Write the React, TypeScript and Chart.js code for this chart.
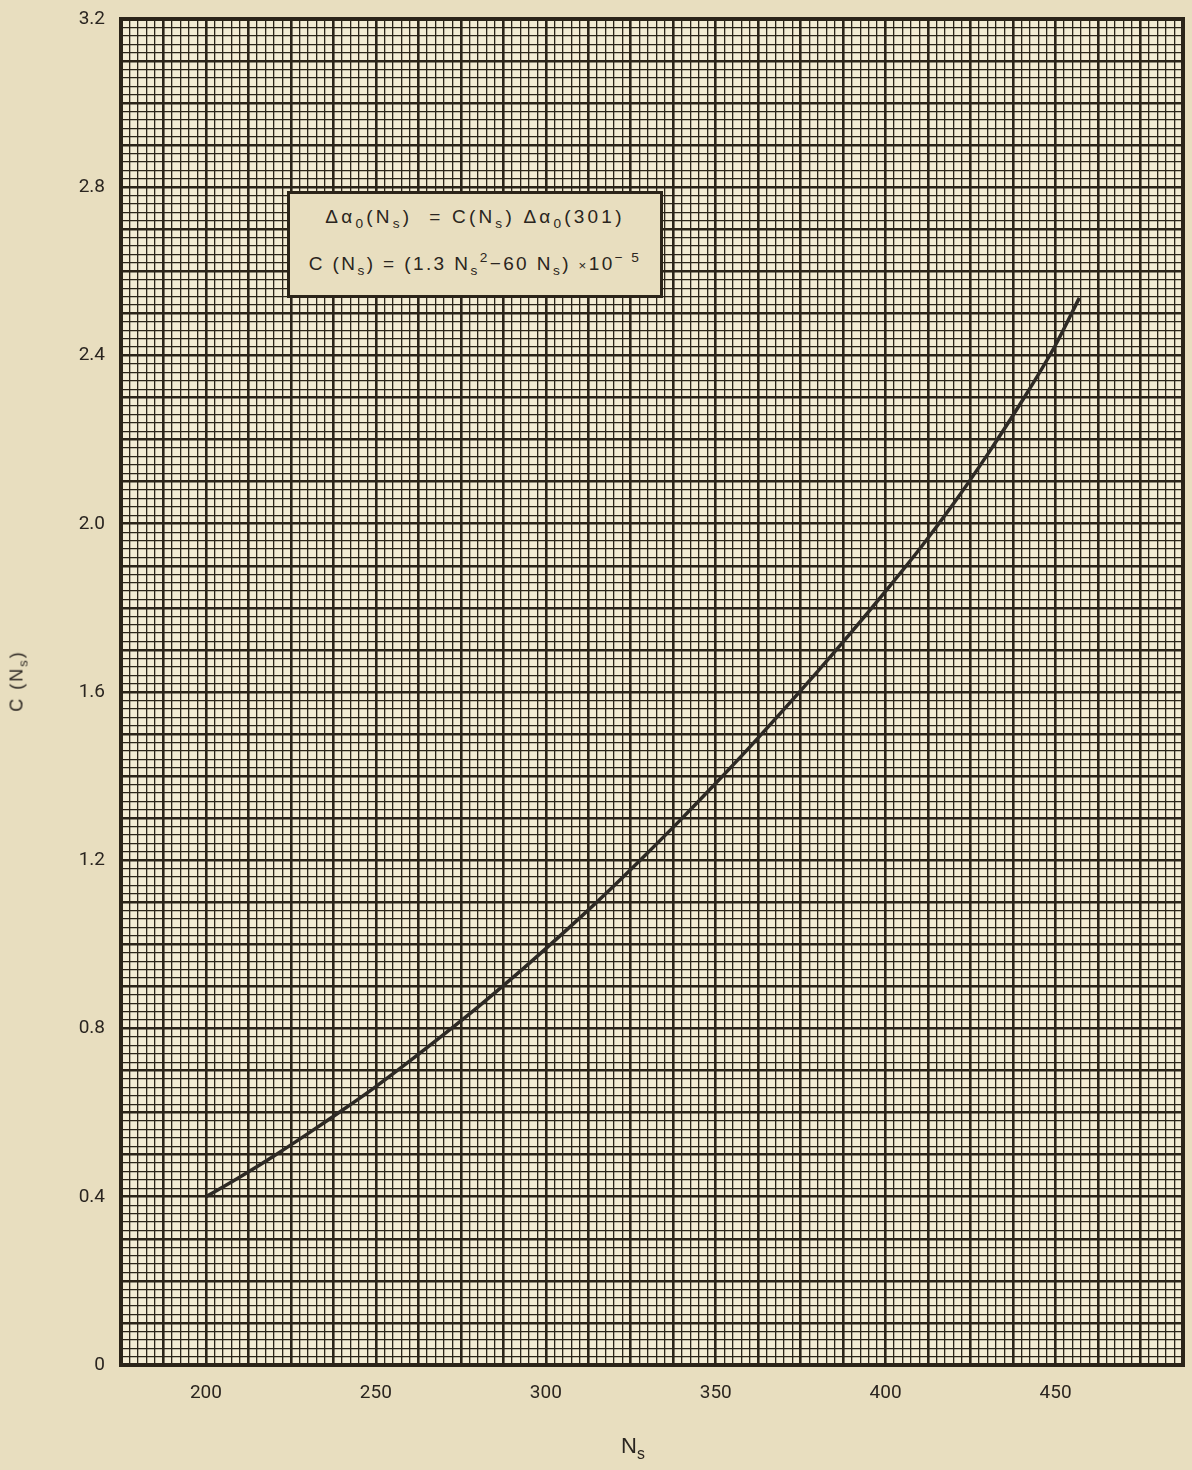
import React, { useEffect, useRef } from "react";
import { Chart, registerables } from "chart.js";

Chart.register(...registerables);

// Data
const nsValues = [200, 210, 220, 230, 240, 250, 260, 270, 280, 290, 300, 310, 320, 330, 340, 350, 360, 370, 380, 390, 400, 410, 420, 430, 440, 450, 457];
const cValues = [0.40, 0.447, 0.497, 0.550, 0.605, 0.662, 0.723, 0.786, 0.851, 0.919, 0.99, 1.063, 1.139, 1.218, 1.299, 1.383, 1.469, 1.558, 1.649, 1.743, 1.84, 1.94, 2.048, 2.165, 2.29, 2.425, 2.537];

const xLabels = [200, 250, 300, 350, 400, 450];
const yLabels = [0, 0.4, 0.8, 1.2, 1.6, 2.0, 2.4, 2.8, 3.2];

const X_MIN = 175;
const X_MAX = 487.5;
const X_STEP = 2.5;
const Y_MIN = 0;
const Y_MAX = 3.2;
const Y_STEP = 0.02;

const PAGE_BG = "#e8debf";
const CELL_BG = "#f3ecd4";
const INK = "#2b2419";
const TICK_FONT = "'Roboto', 'Liberation Sans', sans-serif";
const TEXT_FONT = "'Liberation Sans', 'DejaVu Sans', sans-serif";

const areaBg = {
  id: "areaBg",
  beforeDraw(chart: any) {
    const { ctx, chartArea } = chart;
    ctx.save();
    ctx.fillStyle = CELL_BG;
    ctx.fillRect(chartArea.left, chartArea.top, chartArea.right - chartArea.left, chartArea.bottom - chartArea.top);
    ctx.restore();
  },
};

const frame = {
  id: "frame",
  afterDatasetsDraw(chart: any) {
    const { ctx, chartArea } = chart;
    ctx.save();
    ctx.strokeStyle = INK;
    ctx.lineWidth = 4;
    ctx.strokeRect(chartArea.left, chartArea.top, chartArea.right - chartArea.left, chartArea.bottom - chartArea.top);
    ctx.restore();
  },
};

const zeroPad = (scale: any) => {
  scale.paddingTop = 0;
  scale.paddingBottom = 0;
  scale.paddingLeft = 0;
  scale.paddingRight = 0;
};

export default function App() {
  const ref = useRef<HTMLCanvasElement | null>(null);

  useEffect(() => {
    if (!ref.current) return;
    const points = nsValues.map((n, i) => ({ x: n, y: cValues[i] }));
    const chart = new Chart(ref.current, {
      type: "line",
      data: {
        datasets: [
          {
            data: points,
            borderColor: "#2e2a25",
            borderWidth: 3.5,
            pointRadius: 0,
            cubicInterpolationMode: "monotone",
            fill: false,
          },
        ],
      },
      options: {
        animation: false,
        responsive: false,
        devicePixelRatio: 1,
        layout: { padding: { left: 0, right: 9, top: 19, bottom: 0 } },
        plugins: { legend: { display: false }, tooltip: { enabled: false }, title: { display: false } },
        scales: {
          x: {
            type: "linear",
            min: X_MIN,
            max: X_MAX,
            afterBuildTicks: (scale: any) => {
              const n = Math.round((X_MAX - X_MIN) / X_STEP);
              const t = [];
              for (let k = 0; k <= n; k++) t.push({ value: X_MIN + k * X_STEP });
              scale.ticks = t;
            },
            afterFit: (scale: any) => {
              scale.height = 105;
              zeroPad(scale);
            },
            ticks: {
              autoSkip: false,
              maxRotation: 0,
              padding: 17,
              color: "#2a2520",
              font: { family: TICK_FONT, size: 19 },
              callback: (v: any) => (xLabels.includes(Number(v)) ? String(v) : ""),
            },
            grid: {
              drawTicks: false,
              color: INK,
              lineWidth: (ctx: any) => (ctx.index % 5 === 0 ? 2.6 : 1.3),
            },
            border: { display: false },
          },
          y: {
            type: "linear",
            min: Y_MIN,
            max: Y_MAX,
            afterBuildTicks: (scale: any) => {
              const n = Math.round((Y_MAX - Y_MIN) / Y_STEP);
              const t = [];
              for (let k = 0; k <= n; k++) t.push({ value: Y_MIN + k * Y_STEP });
              scale.ticks = t;
            },
            afterFit: (scale: any) => {
              scale.width = 121;
              zeroPad(scale);
            },
            ticks: {
              autoSkip: false,
              padding: 16,
              color: "#2a2520",
              font: { family: TICK_FONT, size: 19 },
              callback: (v: any, i: number) => {
                if (i % 20 !== 0) return "";
                const val = yLabels[i / 20];
                return val === 0 ? "0" : val.toFixed(1);
              },
            },
            grid: {
              drawTicks: false,
              color: INK,
              lineWidth: (ctx: any) => (ctx.index % 5 === 0 ? 2.6 : 1.3),
            },
            border: { display: false },
          },
        },
      },
      plugins: [areaBg, frame],
    });
    return () => chart.destroy();
  }, []);

  const sub: React.CSSProperties = { fontSize: "0.72em", verticalAlign: "-0.35em", lineHeight: 0 };
  const sup: React.CSSProperties = { fontSize: "0.72em", verticalAlign: "0.6em", lineHeight: 0 };

  return (
    <div style={{ position: "absolute", left: 0, top: 0, width: 1192, height: 1470, background: PAGE_BG, overflow: "hidden" }}>
      <canvas ref={ref} width={1192} height={1470} style={{ position: "absolute", left: 0, top: 0 }} />
      <div
        style={{
          position: "absolute",
          left: 287,
          top: 191,
          width: 370,
          height: 101,
          border: `3px solid ${INK}`,
          background: PAGE_BG,
          fontFamily: TEXT_FONT,
          color: "#2a2520",
          fontSize: 19,
          letterSpacing: "2.4px",
          textAlign: "center",
          whiteSpace: "nowrap",
        }}
      >
        <div style={{ position: "absolute", left: 0, right: 0, top: 11, lineHeight: "24px", letterSpacing: "3.2px" }}>
          Δα<span style={sub}>0</span>(N<span style={sub}>s</span>) &nbsp;= C(N<span style={sub}>s</span>) Δα<span style={sub}>0</span>(301)
        </div>
        <div style={{ position: "absolute", left: 0, right: 0, top: 58, lineHeight: "24px" }}>
          C (N<span style={sub}>s</span>) = (1.3 N<span style={sub}>s</span><span style={sup}>2</span>−60 N<span style={sub}>s</span>) <span style={{ fontSize: "0.7em" }}>×</span>10<span style={sup}>− 5</span>
        </div>
      </div>
      <div
        style={{
          position: "absolute",
          left: 17,
          top: 681,
          transform: "translate(-50%, -50%) rotate(-90deg)",
          fontFamily: TEXT_FONT,
          fontSize: 18,
          letterSpacing: "2px",
          color: "#2a2520",
          whiteSpace: "nowrap",
        }}
      >
        C (N<span style={sub}>s</span>)
      </div>
      <div
        style={{
          position: "absolute",
          left: 633,
          top: 1446,
          transform: "translate(-50%, -50%)",
          fontFamily: TEXT_FONT,
          fontSize: 22,
          color: "#2a2520",
          whiteSpace: "nowrap",
        }}
      >
        N<span style={sub}>s</span>
      </div>
    </div>
  );
}
